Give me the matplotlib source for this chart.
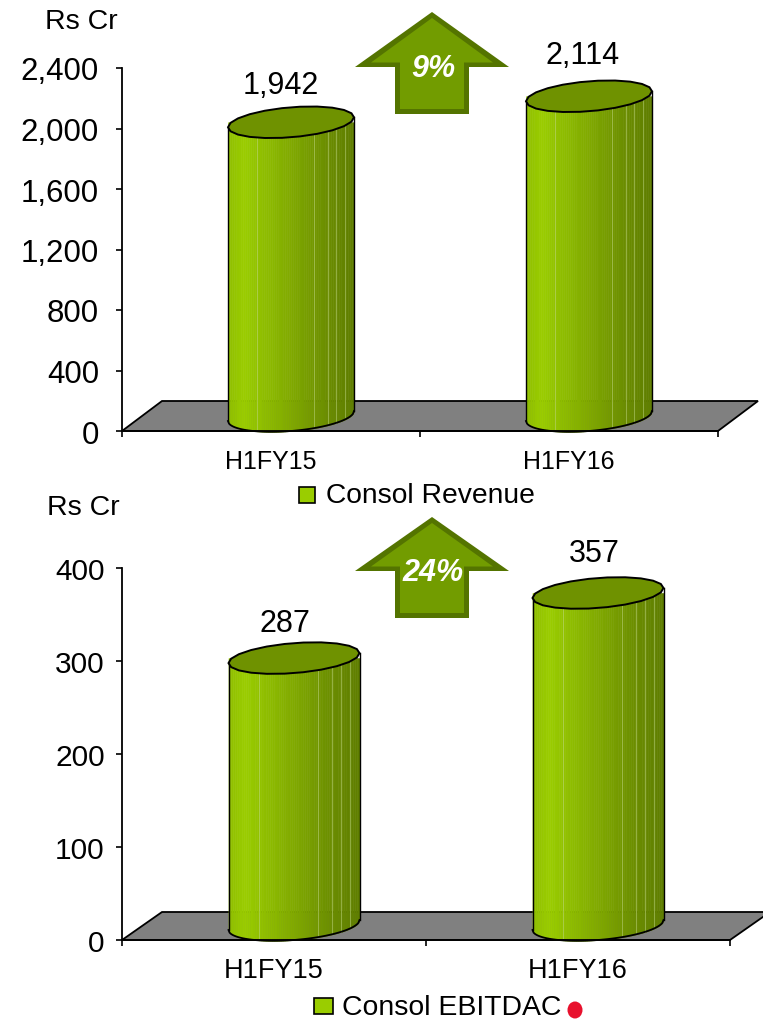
import numpy as np
import matplotlib
matplotlib.use("Agg")
import matplotlib.pyplot as plt
from matplotlib.patches import Polygon, Ellipse
from matplotlib.colors import LinearSegmentedColormap

plt.rcParams['font.family'] = ['Liberation Sans', 'DejaVu Sans']

categories_rev = ['H1FY15', 'H1FY16']
values_rev = [1942, 2114]
yticks_rev = [0, 400, 800, 1200, 1600, 2000, 2400]
categories_ebit = ['H1FY15', 'H1FY16']
values_ebit = [287, 357]
yticks_ebit = [0, 100, 200, 300, 400]

W, H = 763, 1020
PT = 0.72
fig = plt.figure(figsize=(W / 100, H / 100), dpi=100, facecolor='white')
cmap = LinearSegmentedColormap.from_list('g', [(0, '#8FBE00'), (0.12, '#9ACD00'), (0.5, '#80A900'),
                                               (0.8, '#6A8C00'), (1, '#5F7D00')])
light_fracs = [0.23, 0.68, 0.79, 0.86, 0.93]


def px_axes(x0, y0, x1, y1, **kw):
    return fig.add_axes([x0 / W, 1 - y1 / H, (x1 - x0) / W, (y1 - y0) / H], **kw)


def panel(box, cats, vals, ymax, ticks, a, b, lab_off, tick_fs, cat_fs, tick_pad, cat_pad, depth):
    x0, y0, x1, y1 = box
    ax = px_axes(*box)
    ax.set_xlim(-0.5, 1.5)
    ax.set_ylim(0, ymax)
    ax.patch.set_alpha(0)
    ux = (x1 - x0) / 2          # pixels per category
    uy = (y1 - y0) / ymax       # pixels per value unit
    dd, dh = depth
    # floor
    ax.add_patch(Polygon([(-0.5, 0), (-0.5 + dd / ux, dh / uy), (1.5 + dd / ux, dh / uy), (1.5, 0)],
                         closed=True, fc='#808080', ec='black', lw=1.3, clip_on=False, zorder=1))
    ox = 20 / ux
    oy = 15 / uy
    for i, v in enumerate(vals):
        cx = i + ox
        ax_ = a / ux
        # the faceted outline gives the cap its slightly lumpy look
        t = np.linspace(0, 2 * np.pi, 23)
        ex = ax_ * np.cos(t)
        ey = (b * np.sin(t) + 5 * np.cos(t)) / uy
        # body strips
        n = 60
        edges = np.linspace(-1, 1, n + 1)
        for k in range(n):
            xa, xb = edges[k], edges[k + 1]
            xs = np.linspace(xa, xb, 3)
            low = (-b * np.sqrt(np.clip(1 - xs ** 2, 0, 1)) + 5 * xs) / uy + oy
            top = np.full_like(xs, v + oy)
            col = cmap((k + 0.5) / n)
            ax.fill_between(cx + xs * ax_, low, top, color=col, lw=0.4, zorder=2, clip_on=False)
        for f in light_fracs:
            xv = 2 * f - 1
            low = (-b * np.sqrt(1 - xv ** 2) + 5 * xv) / uy + oy
            ax.plot([cx + xv * ax_] * 2, [low, v + oy], color='#C2D98A', lw=0.7, alpha=0.5, zorder=3, clip_on=False)
        # outline
        xs = np.linspace(-1, 1, 121)
        low = (-b * np.sqrt(1 - xs ** 2) + 5 * xs) / uy + oy
        ax.plot(cx + xs * ax_, low, color='black', lw=1.3, zorder=4, clip_on=False)
        ax.plot([cx - ax_] * 2, [low[0], v + oy - 5 / uy], color='black', lw=1.0, zorder=4, clip_on=False)
        ax.plot([cx + ax_] * 2, [low[-1], v + oy + 5 / uy], color='black', lw=1.0, zorder=4, clip_on=False)
        # top cap
        ax.fill(cx + ex, v + oy + ey, fc='#6F9200', ec='black', lw=1.4, zorder=5, clip_on=False)
        ax.annotate(f'{v:,}', (i, v), xytext=(lab_off[i][0] * PT, lab_off[i][1] * PT), textcoords='offset points',
                    ha='center', va='center', fontsize=22, color='black', zorder=6)
    for s in ('top', 'right'):
        ax.spines[s].set_visible(False)
    for s in ('left', 'bottom'):
        ax.spines[s].set_linewidth(1.3)
        ax.spines[s].set_zorder(7)
    ax.set_yticks(ticks)
    ax.set_yticklabels([f'{t:,}' for t in ticks], fontsize=tick_fs)
    ax.tick_params(axis='y', length=4.5, width=1.2, pad=tick_pad)
    ax.set_xticks([0, 1])
    ax.set_xticklabels(cats, fontsize=cat_fs)
    ax.tick_params(axis='x', which='major', length=0, pad=cat_pad)
    ax.set_xticks([-0.5, 0.5, 1.5], minor=True)
    ax.tick_params(axis='x', which='minor', length=4.5, width=1.2)
    return ax


ax1 = panel((122, 69, 718, 432), categories_rev, values_rev, 2400, yticks_rev, 63, 15,
            [(10, 52), (14, 56)], 22.5, 18, 12, 13, (40, 30))
ax2 = panel((122, 569, 730, 941), categories_ebit, values_ebit, 400, yticks_ebit, 65.5, 15,
            [(11, 50), (16, 55)], 21.5, 19.5, 8, 12, (40, 28))

# overlay in pixel coordinates for annotations
ov = fig.add_axes([0, 0, 1, 1], zorder=10)
ov.set_xlim(0, W)
ov.set_ylim(H, 0)
ov.axis('off')


def arrow(top, wing, bottom, label):
    pts = [(432, top), (509, wing), (469, wing), (469, bottom), (395, bottom), (395, wing), (355, wing)]
    ov.add_patch(Polygon(pts, closed=True, fc='#547400', ec='none'))
    inner = [(432, top + 6), (493, wing - 4.5), (464, wing - 4.5), (464, bottom - 5), (400, bottom - 5),
             (400, wing - 4.5), (371, wing - 4.5)]
    ov.add_patch(Polygon(inner, closed=True, fc='#729C00', ec='none'))
    ov.text(433, wing + 1, label, color='white', fontsize=22, fontweight='bold', fontstyle='italic',
            ha='center', va='center')


arrow(13, 68, 115, '9%')
arrow(518, 572, 619, '24%')

ov.text(81, 22, 'Rs Cr', fontsize=20.5, ha='center', va='center')
ov.text(83, 508, 'Rs Cr', fontsize=20.5, ha='center', va='center')

for x0, x1, yc, tx, ty, lab, fs in [(299, 315, 495.5, 326, 496, 'Consol Revenue', 20.3),
                                    (314, 333, 1007, 342, 1008, 'Consol EBITDAC', 20.4)]:
    ov.add_patch(Polygon([(x0, yc - 8), (x1, yc - 8), (x1, yc + 8), (x0, yc + 8)], closed=True,
                         fc='#9ACD00', ec='black', lw=1.2))
    ov.text(tx, ty, lab, fontsize=fs, ha='left', va='center')

ov.add_patch(Ellipse((575, 1011), 15, 17, fc='#E8112D', ec='none'))

fig.savefig('out.png', dpi=100)
